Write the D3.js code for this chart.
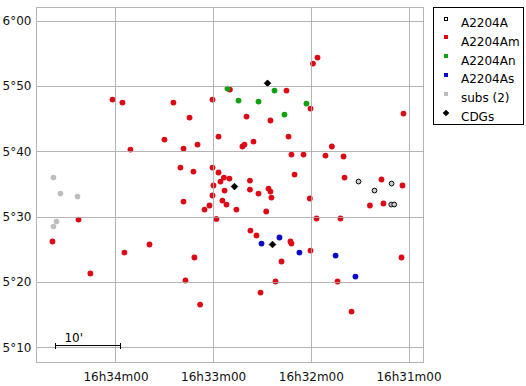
<!DOCTYPE html>
<html>
<head>
<meta charset="utf-8">
<script src="https://cdn.jsdelivr.net/npm/d3@7"></script>
<style>
  body { margin: 0; background: #fff; }
  text { font-family: "DejaVu Sans", Verdana, sans-serif; font-size: 12px; }
</style>
</head>
<body>
<svg id="chart" width="526" height="386"></svg>
<script>
// RA in seconds of time after 16h30m00, Dec in arcmin after 5°00'
var raTicks = [240, 180, 120, 60];
var raLabels = ["16h34m00", "16h33m00", "16h32m00", "16h31m00"];
var decTicks = [60, 50, 40, 30, 20, 10];
var decLabels = ["6°00", "5°50", "5°40", "5°30", "5°20", "5°10"];

var seriesNames = ["A2204A", "A2204Am", "A2204An", "A2204As", "subs (2)", "CDGs"];

var pointsA = [
  [90.7, 35.36], [80.9, 33.98], [70.4, 35.05], [70.6, 31.84], [68.8, 31.84]
];

var pointsAm = [
  [241.8, 47.9], [235.7, 47.45], [204.4, 47.45], [194.5, 45.15], [209.9, 41.79],
  [230.8, 40.26], [198.2, 40.41], [189.6, 41.02], [180.4, 47.9], [176.7, 42.25],
  [200.1, 37.5], [192.1, 36.89], [180.4, 37.5], [176.7, 36.74], [179.8, 34.75],
  [175.5, 35.36], [115.9, 54.34], [118.7, 53.42], [169.7, 49.44], [134.95, 49.29],
  [120.2, 46.53], [63.1, 45.77], [159.5, 45.31], [144.8, 44.7], [133.7, 42.25],
  [155.2, 41.48], [160.75, 41.02], [162.0, 40.72], [107.1, 40.72], [131.9, 39.49],
  [124.5, 39.49], [111.0, 39.34], [99.9, 39.19], [130.0, 36.43], [99.3, 35.97],
  [76.6, 35.67], [63.7, 34.75], [173.4, 35.97], [170.0, 35.82], [157.4, 35.51],
  [173.0, 33.98], [157.4, 34.13], [152.15, 33.52], [146.0, 34.29], [144.8, 33.83],
  [144.2, 32.91], [180.4, 33.22], [174.3, 32.45], [171.8, 31.84], [182.25, 31.69],
  [185.3, 31.07], [165.7, 31.07], [147.4, 30.77], [178.0, 29.64], [120.6, 32.76],
  [83.7, 31.69], [75.4, 32.0], [116.5, 29.7], [101.8, 29.7], [157.1, 27.86],
  [153.4, 27.1], [132.5, 26.18], [131.9, 25.87], [120.2, 24.8], [138.0, 23.12],
  [64.3, 23.73], [141.7, 20.06], [103.6, 20.06], [150.9, 18.37], [95.0, 15.46],
  [188.0, 16.53], [197.0, 20.21], [191.5, 23.73], [198.2, 32.3], [219.1, 25.72],
  [234.5, 24.49], [255.4, 21.28], [262.7, 29.54], [278.7, 26.18]
];

var pointsAn = [
  [171.2, 49.59], [142.3, 49.29], [164.4, 47.76], [152.15, 47.6], [122.7, 47.3],
  [136.2, 45.61]
];

var pointsAs = [
  [150.3, 25.87], [139.25, 26.79], [127.0, 24.49], [104.8, 24.03], [92.6, 20.82]
];

var pointsSubs = [
  [278.1, 35.97], [273.8, 33.52], [263.3, 33.06], [276.2, 29.24], [278.1, 28.47]
];

var pointsCDG = [
  [146.6, 50.4], [166.9, 34.59], [143.55, 25.72]
];

// 10' scale bar, in the same coordinates
var scaleBarStart = [276.9, 10.41];
var scaleBarArcmin = 10;

var colors = {
  A: "#cccccc", Am: "#dc0a14", An: "#10a010", As: "#0a0ac8", subs: "#bdbdbd", cdg: "#000"
};

var svg = d3.select("#chart");
var plot = { left: 36.5, right: 423.5, top: 7.5, bottom: 362.5 };

var x = d3.scaleLinear().domain([288.5, 50.8]).range([plot.left, plot.right]);
var y = d3.scaleLinear().domain([62.0, 7.66]).range([plot.top, plot.bottom]);

// points first, grid is drawn on top of them
var g = svg.append("g");

var dot = function (data, fill, r) {
  g.selectAll(null).data(data).enter().append("circle")
    .attr("cx", function (d) { return x(d[0]); })
    .attr("cy", function (d) { return y(d[1]); })
    .attr("r", r)
    .attr("fill", fill);
};

dot(pointsSubs, colors.subs, 2.8);
dot(pointsAm, colors.Am, 2.9);
dot(pointsAn, colors.An, 2.9);
dot(pointsAs, colors.As, 2.9);

g.selectAll(null).data(pointsA).enter().append("circle")
  .attr("cx", function (d) { return x(d[0]); })
  .attr("cy", function (d) { return y(d[1]); })
  .attr("r", 2.4)
  .attr("fill", colors.A)
  .attr("stroke", "#000")
  .attr("stroke-width", 1);

var diamond = d3.symbol().type(d3.symbolSquare).size(22);
g.selectAll(null).data(pointsCDG).enter().append("path")
  .attr("d", diamond)
  .attr("transform", function (d) {
    return "translate(" + x(d[0]) + "," + y(d[1]) + ") rotate(45)";
  })
  .attr("fill", colors.cdg)
  .attr("stroke", "#000")
  .attr("stroke-width", 0.8);

// grid
var grid = svg.append("g")
  .attr("stroke", "#a8a8a8")
  .attr("stroke-opacity", 0.85)
  .attr("shape-rendering", "crispEdges");

grid.selectAll(null).data(raTicks).enter().append("line")
  .attr("x1", function (d) { return Math.round(x(d)) + 0.5; })
  .attr("x2", function (d) { return Math.round(x(d)) + 0.5; })
  .attr("y1", plot.top).attr("y2", plot.bottom);

grid.selectAll(null).data(decTicks).enter().append("line")
  .attr("y1", function (d) { return Math.round(y(d)) + 0.5; })
  .attr("y2", function (d) { return Math.round(y(d)) + 0.5; })
  .attr("x1", plot.left).attr("x2", plot.right);

grid.append("rect")
  .attr("x", plot.left).attr("y", plot.top)
  .attr("width", plot.right - plot.left)
  .attr("height", plot.bottom - plot.top)
  .attr("fill", "none");

// axis labels
var xAxis = d3.axisBottom(x)
  .tickValues(raTicks)
  .tickFormat(function (d, i) { return raLabels[i]; })
  .tickSize(0).tickPadding(10);

var yAxis = d3.axisLeft(y)
  .tickValues(decTicks)
  .tickFormat(function (d, i) { return decLabels[i]; })
  .tickSize(0).tickPadding(5);

var ax = svg.append("g").attr("transform", "translate(0," + plot.bottom + ")").call(xAxis);
var ay = svg.append("g").attr("transform", "translate(" + plot.left + ",0)").call(yAxis);
[ax, ay].forEach(function (a) {
  a.select(".domain").remove();
  a.selectAll("text")
    .style("font-family", "DejaVu Sans, Verdana, sans-serif")
    .style("font-size", "12px")
    .attr("fill", "#111");
});

// scale bar (10 arcmin of arc -> seconds of RA at this dec)
var decRad = (5 + scaleBarStart[1] / 60) * Math.PI / 180;
var barRaSec = scaleBarArcmin * 4 / Math.cos(decRad);
var bx0 = x(scaleBarStart[0]), bx1 = x(scaleBarStart[0] - barRaSec);
var by = Math.round(y(scaleBarStart[1])) + 0.5;
var bar = svg.append("g").attr("stroke", "#000").attr("stroke-width", 1)
  .attr("shape-rendering", "crispEdges");
bar.append("line").attr("x1", bx0).attr("x2", bx1).attr("y1", by).attr("y2", by);
bar.append("line").attr("x1", bx0).attr("x2", bx0).attr("y1", by - 3).attr("y2", by + 3);
bar.append("line").attr("x1", bx1).attr("x2", bx1).attr("y1", by - 3).attr("y2", by + 3);
svg.append("text")
  .attr("x", bx0 + 9).attr("y", by - 4)
  .attr("fill", "#000")
  .text(scaleBarArcmin + "'");

// legend
var legend = svg.append("g");
legend.append("rect")
  .attr("x", 433.5).attr("y", 7.5)
  .attr("width", 90).attr("height", 117)
  .attr("fill", "#fff").attr("stroke", "#000");

var legendFill = [colors.A, colors.Am, colors.An, colors.As, colors.subs, colors.cdg];
var rowY = function (i) { return 18.5 + i * 18.9; };

legend.selectAll(null).data(seriesNames).enter().append("text")
  .attr("x", 461)
  .attr("y", function (d, i) { return rowY(i) + 4; })
  .attr("dy", "0.35em")
  .attr("fill", "#000")
  .text(function (d) { return d; });

legend.selectAll(null).data(seriesNames.slice(0, 5)).enter().append("rect")
  .attr("x", 444.5)
  .attr("y", function (d, i) { return Math.round(rowY(i)) - 1.5; })
  .attr("width", 3).attr("height", 3)
  .attr("fill", function (d, i) { return i === 0 ? "#fff" : legendFill[i]; })
  .attr("stroke", function (d, i) { return i === 0 ? "#000" : legendFill[i]; })
  .attr("stroke-width", 1);

legend.append("path")
  .attr("d", diamond)
  .attr("transform", "translate(446," + rowY(5) + ") rotate(45)")
  .attr("fill", "#000");
</script>
</body>
</html>
